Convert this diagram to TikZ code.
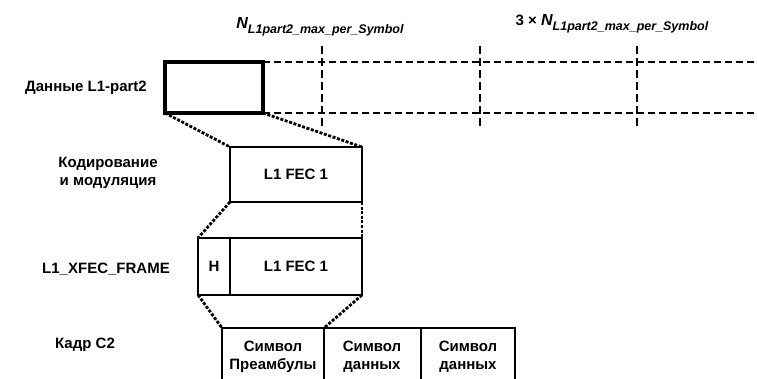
\documentclass[tikz,border=0pt]{standalone}
\usepackage{fontspec}
\setmainfont{Liberation Sans}
\newcommand{\Nsym}{{\itshape\fontsize{16}{17}\selectfont N\raisebox{-4.5pt}{\fontsize{12.5}{13}\selectfont L1part2\_max\_per\_Symbol}}}
\begin{document}
\begin{tikzpicture}[x=1pt,y=-1pt,
  every node/.style={font=\bfseries\fontsize{15}{16.5}\selectfont, inner sep=0pt},
  box/.style={draw, line width=2.6pt, anchor=north west, outer sep=0pt},
  thickbox/.style={draw, line width=3.6pt, anchor=north west, outer sep=0pt},
  dashline/.style={line width=2.3pt, dash pattern=on 7pt off 4pt},
  vdash/.style={line width=1.8pt, dash pattern=on 8pt off 4pt},
  dotline/.style={line width=2.8pt, dash pattern=on 3pt off 1.6pt},
  lbl/.style={align=center}]
\useasboundingbox (0,0) rectangle (757,379);
\clip (0,0) rectangle (757,379);
\fill[white] (0,0) rectangle (757,379);

% top labels
\node[lbl] (n1) at (320,27) {\Nsym};
\node[lbl] (n3) at (612,24) {3 × \Nsym};

% top data box
\node[thickbox, minimum width=98pt, minimum height=51pt] (data) at (165,62) {};
\node[lbl] (ldata) at (86,88) {Данные L1-part2};

% dashed continuation
\coordinate (de1) at (757,62);
\coordinate (de2) at (757,113);
\draw[dashline] (data.north east) -- (de1);
\draw[dashline] (data.south east) -- (de2);

% vertical dashed markers
\coordinate (v1a) at (322,46); \coordinate (v1b) at (322,126);
\coordinate (v2a) at (480,46); \coordinate (v2b) at (480,126);
\coordinate (v3a) at (637,46); \coordinate (v3b) at (637,126);
\draw[vdash] (v1a) -- (v1b);
\draw[vdash] (v2a) -- (v2b);
\draw[vdash] (v3a) -- (v3b);

% FEC box
\node[box, minimum width=132pt, minimum height=55pt] (fec) at (230,147) {};
\node (tfec) at (fec.center) {L1 FEC 1};
\node[lbl] (lcod) at (108,173) {Кодирование\\[1pt]и модуляция};

% XFEC frame
\node[box, minimum width=32pt, minimum height=57pt] (h) at (198,238) {};
\node (th) at (h.center) {H};
\node[box, minimum width=132pt, minimum height=57pt] (xfec) at (230,238) {};
\node (txfec) at (xfec.center) {L1 FEC 1};
\node[lbl] (lx) at (106,269) {L1\_XFEC\_FRAME};

% C2 frame
\node[box, minimum width=102pt, minimum height=70pt] (s1) at (222,328) {};
\node[box, minimum width=97pt, minimum height=70pt] (s2) at (324,328) {};
\node[box, minimum width=94pt, minimum height=70pt] (s3) at (421,328) {};
\node[lbl] (ts1) at (273,357) {Символ\\[2pt]Преамбулы};
\node[lbl] (ts2) at (372,357) {Символ\\[2pt]данных};
\node[lbl] (ts3) at (468,357) {Символ\\[2pt]данных};
\node[lbl] (lc2) at (85,345) {Кадр C2};

% dotted connectors
\draw[dotline] (data.south west) -- (fec.north west);
\draw[dotline] (data.south east) -- (fec.north east);
\draw[dotline] (fec.south west) -- (h.north west);
\draw[dotline] (fec.south east) -- (xfec.north east);
\draw[dotline] (h.south west) -- (s1.north west);
\draw[dotline] (xfec.south east) -- (s1.north east);
\end{tikzpicture}
\end{document}
